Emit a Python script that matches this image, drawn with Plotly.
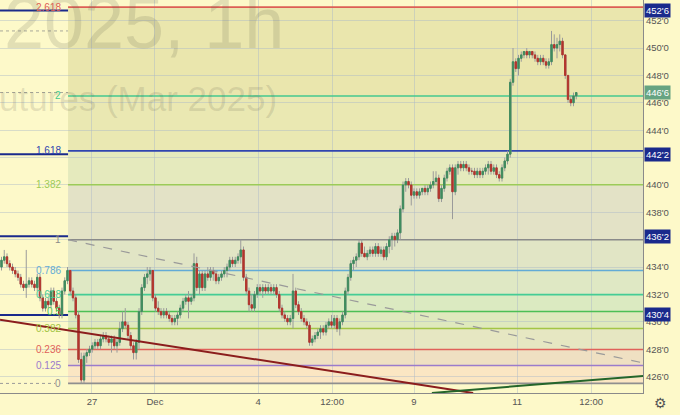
import plotly.graph_objects as go

# ---------------- data (hourly OHLC, Corn Futures Mar 2025) ----------------
open_ = [434.0, 434.5, 434.75, 434.25, 434.0, 433.75, 433.5, 433.25, 432.75, 432.5,
         432.75, 433.0, 432.75, 432.5, 433.25, 431.75, 431.0, 431.5, 431.25, 432.25,
         431.5, 431.0, 430.5, 432.25, 433.0, 433.75, 432.25, 431.75, 430.5, 427.25,
         425.75, 427.5, 427.75, 428.0, 428.25, 428.5, 428.25, 428.75, 429.0, 428.75,
         428.5, 428.75, 428.25, 428.5, 429.5, 430.0, 429.75, 429.0, 428.25, 427.75,
         428.5, 430.75, 432.5, 433.25, 433.5, 433.75, 431.75, 431.0, 430.75, 430.5,
         430.75, 430.5, 430.25, 430.0, 430.25, 430.5, 431.0, 431.5, 431.75, 431.5,
         431.75, 434.25, 432.5, 433.5, 432.5, 433.5, 433.25, 433.75, 433.5, 433.0,
         433.25, 433.5, 433.75, 434.0, 434.5, 434.25, 434.5, 434.75, 435.25, 433.25,
         432.25, 431.25, 431.0, 432.0, 432.5, 432.25, 432.5, 432.25, 432.5, 432.25,
         432.5, 432.0, 431.0, 430.5, 430.25, 430.0, 430.25, 432.25, 431.25, 430.75,
         430.25, 430.0, 429.75, 428.5, 428.75, 429.0, 429.25, 429.5, 429.25, 429.75,
         430.0, 429.75, 430.25, 429.5, 430.0, 430.5, 432.25, 433.25, 434.25, 434.5,
         434.75, 435.75, 435.0, 434.75, 435.0, 435.25, 435.0, 435.5, 435.0, 435.25,
         434.75, 435.5, 436.0, 436.25, 436.0, 436.5, 438.25, 440.0, 440.25, 440.0,
         439.25, 439.5, 439.25, 439.5, 439.75, 439.5, 439.75, 440.0, 440.25, 440.5,
         439.0, 439.75, 440.5, 441.0, 441.25, 439.5, 441.25, 441.5, 441.25, 441.5,
         441.25, 441.0, 441.0, 440.75, 441.0, 440.75, 441.0, 441.25, 441.5, 441.0,
         441.25, 440.75, 440.5, 441.25, 441.75, 442.25, 447.5, 449.0, 448.5, 449.25,
         449.5, 449.75, 449.5, 449.75, 449.5, 449.25, 449.0, 449.25, 449.0, 448.75,
         449.0, 450.25, 450.0, 450.25, 450.5, 449.5, 448.0, 446.25, 446.0, 446.5]
high = [434.75, 435.25, 435.0, 434.5, 434.25, 434.0, 433.75, 433.5, 433.0, 435.25,
        433.25, 433.25, 433.0, 433.5, 433.5, 432.0, 431.75, 431.75, 432.5, 432.5,
        431.75, 431.25, 432.5, 433.25, 434.0, 433.75, 432.5, 432.0, 430.75, 427.75,
        427.75, 428.0, 428.25, 428.5, 428.75, 428.75, 429.0, 429.25, 429.25, 429.0,
        429.0, 429.0, 428.75, 430.0, 430.75, 431.0, 430.0, 429.25, 428.5, 428.75,
        431.0, 432.75, 433.5, 434.0, 434.0, 433.75, 432.0, 431.5, 431.0, 431.0,
        431.0, 430.75, 430.5, 430.5, 430.75, 431.25, 431.75, 432.0, 432.25, 432.0,
        435.0, 434.75, 433.75, 433.75, 433.75, 434.0, 434.0, 434.0, 433.75, 433.5,
        433.75, 434.0, 434.25, 434.75, 434.75, 434.75, 435.0, 436.0, 435.5, 433.5,
        432.5, 432.0, 432.25, 432.75, 432.75, 432.75, 432.75, 432.75, 432.75, 432.75,
        432.75, 432.25, 431.25, 430.75, 430.5, 430.5, 433.5, 432.5, 431.5, 431.0,
        430.5, 430.25, 430.0, 429.0, 429.25, 429.5, 429.75, 429.75, 430.0, 430.25,
        430.5, 430.5, 430.5, 430.25, 430.75, 432.5, 433.5, 434.5, 434.75, 435.0,
        436.0, 436.0, 435.5, 435.25, 435.5, 435.5, 435.75, 435.75, 435.5, 435.5,
        435.75, 436.25, 436.5, 436.5, 436.75, 438.5, 440.25, 440.5, 440.5, 440.25,
        439.75, 439.75, 439.75, 439.75, 440.0, 440.0, 440.25, 441.0, 441.0, 440.75,
        440.0, 440.75, 441.25, 441.5, 441.5, 441.5, 441.75, 441.75, 441.75, 441.75,
        441.5, 441.25, 441.25, 441.25, 441.25, 441.25, 441.5, 441.75, 441.75, 441.5,
        441.5, 441.0, 441.5, 442.0, 442.5, 447.75, 450.0, 449.25, 449.5, 449.75,
        449.75, 450.0, 449.75, 449.75, 449.75, 449.5, 449.5, 449.5, 449.25, 449.25,
        451.25, 451.0, 450.75, 451.0, 450.75, 449.5, 448.0, 446.5, 446.75, 446.75]
low = [433.75, 434.25, 434.0, 433.75, 433.5, 433.25, 433.0, 432.5, 432.25, 431.75,
       432.5, 432.5, 432.25, 432.25, 431.5, 430.75, 430.75, 431.0, 431.0, 431.25,
       430.75, 430.25, 430.25, 432.0, 432.75, 432.0, 431.5, 430.25, 427.0, 425.5,
       425.5, 427.0, 427.5, 427.75, 428.0, 428.0, 428.0, 428.5, 428.5, 428.25,
       427.75, 428.0, 427.75, 428.25, 429.25, 429.5, 428.75, 428.0, 427.25, 427.25,
       428.0, 430.5, 432.25, 432.75, 433.0, 431.5, 430.75, 430.5, 430.25, 430.25,
       430.25, 430.0, 429.75, 429.75, 429.75, 430.25, 430.75, 431.25, 430.25, 431.25,
       431.5, 432.25, 432.0, 432.25, 432.25, 433.0, 433.0, 433.0, 432.75, 432.75,
       433.0, 433.25, 433.25, 433.75, 434.0, 434.0, 434.25, 434.25, 433.0, 432.0,
       430.75, 430.75, 430.75, 431.75, 432.0, 431.75, 432.0, 432.0, 432.0, 432.0,
       431.75, 430.75, 430.25, 430.0, 429.75, 429.75, 429.5, 431.0, 430.5, 430.0,
       429.75, 429.5, 428.25, 428.25, 428.5, 428.75, 428.75, 429.0, 429.0, 429.5,
       429.5, 429.5, 429.25, 429.0, 429.75, 430.25, 432.0, 433.0, 433.75, 434.0,
       434.5, 434.75, 434.75, 434.5, 434.75, 434.75, 434.75, 434.75, 434.75, 434.5,
       434.5, 435.0, 435.25, 435.5, 435.75, 436.0, 438.0, 439.5, 439.75, 438.5,
       439.0, 439.0, 439.0, 439.25, 439.25, 439.25, 439.5, 439.75, 440.0, 438.75,
       438.75, 439.5, 440.25, 440.75, 437.5, 439.25, 440.75, 441.0, 441.0, 441.0,
       440.75, 440.75, 440.5, 440.5, 440.5, 440.5, 440.75, 440.75, 440.75, 440.75,
       440.5, 440.25, 440.25, 441.0, 441.5, 442.0, 447.25, 448.25, 448.0, 449.0,
       449.25, 449.25, 449.25, 449.25, 449.0, 448.75, 448.75, 448.75, 448.5, 448.5,
       448.75, 449.75, 449.25, 449.75, 449.25, 447.75, 446.0, 445.75, 445.75, 446.25]
close = [434.5, 434.75, 434.25, 434.0, 433.75, 433.5, 433.25, 432.75, 432.5, 432.75,
         433.0, 432.75, 432.5, 433.25, 431.75, 431.0, 431.5, 431.25, 432.25, 431.5,
         431.0, 430.5, 432.25, 433.0, 433.75, 432.25, 431.75, 430.5, 427.25, 425.75,
         427.5, 427.75, 428.0, 428.25, 428.5, 428.25, 428.75, 429.0, 428.75, 428.5,
         428.75, 428.25, 428.5, 429.5, 430.0, 429.75, 429.0, 428.25, 427.75, 428.5,
         430.75, 432.5, 433.25, 433.5, 433.75, 431.75, 431.0, 430.75, 430.5, 430.75,
         430.5, 430.25, 430.0, 430.25, 430.5, 431.0, 431.5, 431.75, 431.5, 431.75,
         434.25, 432.5, 433.5, 432.5, 433.5, 433.25, 433.75, 433.5, 433.0, 433.25,
         433.5, 433.75, 434.0, 434.5, 434.25, 434.5, 434.75, 435.25, 433.25, 432.25,
         431.25, 431.0, 432.0, 432.5, 432.25, 432.5, 432.25, 432.5, 432.25, 432.5,
         432.0, 431.0, 430.5, 430.25, 430.0, 430.25, 432.25, 431.25, 430.75, 430.25,
         430.0, 429.75, 428.5, 428.75, 429.0, 429.25, 429.5, 429.25, 429.75, 430.0,
         429.75, 430.25, 429.5, 430.0, 430.5, 432.25, 433.25, 434.25, 434.5, 434.75,
         435.75, 435.0, 434.75, 435.0, 435.25, 435.0, 435.5, 435.0, 435.25, 434.75,
         435.5, 436.0, 436.25, 436.0, 436.5, 438.25, 440.0, 440.25, 440.0, 439.25,
         439.5, 439.25, 439.5, 439.75, 439.5, 439.75, 440.0, 440.25, 440.5, 439.0,
         439.75, 440.5, 441.0, 441.25, 439.5, 441.25, 441.5, 441.25, 441.5, 441.25,
         441.0, 441.0, 440.75, 441.0, 440.75, 441.0, 441.25, 441.5, 441.0, 441.25,
         440.75, 440.5, 441.25, 441.75, 442.25, 447.5, 449.0, 448.5, 449.25, 449.5,
         449.75, 449.5, 449.75, 449.5, 449.25, 449.0, 449.25, 449.0, 448.75, 449.0,
         450.25, 450.0, 450.25, 450.5, 449.5, 448.0, 446.25, 446.0, 446.5, 446.75]

# x-axis date labels (bar-index positions)
date_tick_pos = [32.9, 55.8, 93.3, 120.2, 150.0, 187.5, 214.4]
date_tick_text = ["27", "Dec", "4", "12:00", "9", "11", "12:00"]

# price axis ticks
price_ticks = [426, 428, 430, 432, 434, 436, 438, 440, 442, 444, 446, 448, 450, 452]

# Fibonacci extension drawing
fib_low, fib_high = 425.5, 436.0
fib_start_bar = 24.2
fib_ratios = [0, 0.125, 0.236, 0.382, 0.5, 0.618, 0.786, 1, 1.382, 1.618, 2, 2.618]
fib_labels = ["0", "0.125", "0.236", "0.382", "0.5", "0.618", "0.786", "1", "1.382", "1.618", "2", "2.618"]
fib_colors = ["#8f8f8f", "#9b7bcc", "#e0615a", "#a3c545", "#4cbf55", "#45cc95",
              "#62abd6", "#8a8a8a", "#9ccb58", "#2f45b0", "#45c98f", "#dd5f55"]
band_colors = ["#fbe6c3", "#efe0c2", "#e6e7c2", "#dfe9bd", "#dbeac1", "#dfe8c4",
               "#e1e5c5", "#e3e2c6", "#e5eabd", "#eae8b2", "#eae6ad"]

# horizontal level lines
level_prices = [452.75, 442.25, 436.25, 430.5]
last_price = 446.75
high_marker = 451.25

# trendlines (bar index, price)
red_trend = ([-0.55, 171.5], [430.15, 424.8])
green_trend = ([156.5, 233.3], [424.8, 426.05])
dash_trend = ([24.2, 233.3], [436.0, 427.0])

X_RANGE = [-0.545, 233.27]
Y_RANGE = [424.80, 453.51]

def fmt(p):
    w = int(p)
    e = int(round((p - w) * 8))
    return f"{w}'{e}"

FONT = "Liberation Sans, Arial, sans-serif"
GREEN, RED = "#3f8c5e", "#b3352c"
NAVY = "#1a2a8c"

idx = list(range(len(close)))
body_hi = [max(o, c) for o, c in zip(open_, close)]
body_lo = [min(o, c) for o, c in zip(open_, close)]

fig = go.Figure()
# wicks (gray)
fig.add_trace(go.Candlestick(
    x=idx, open=open_, high=high, low=low, close=close,
    increasing=dict(line=dict(color="#9a9a9a", width=1), fillcolor="rgba(0,0,0,0)"),
    decreasing=dict(line=dict(color="#9a9a9a", width=1), fillcolor="rgba(0,0,0,0)"),
    hoverinfo="skip", showlegend=False))
# bodies
fig.add_trace(go.Candlestick(
    x=idx, open=open_, high=body_hi, low=body_lo, close=close,
    increasing=dict(line=dict(color=GREEN, width=1), fillcolor=GREEN),
    decreasing=dict(line=dict(color=RED, width=1), fillcolor=RED),
    hoverinfo="skip", showlegend=False))

shapes = []
fib_prices = [fib_low + r * (fib_high - fib_low) for r in fib_ratios]
for i in range(len(fib_prices) - 1):
    shapes.append(dict(type="rect", xref="x", yref="y", x0=fib_start_bar, x1=X_RANGE[1],
                       y0=fib_prices[i], y1=fib_prices[i + 1], fillcolor=band_colors[i],
                       line=dict(width=0), layer="below"))
for p, c in zip(fib_prices, fib_colors):
    shapes.append(dict(type="line", xref="x", yref="y", x0=fib_start_bar, x1=X_RANGE[1],
                       y0=p, y1=p, line=dict(color=c, width=1.6), layer="between"))
# dotted left extension of 0 level
shapes.append(dict(type="line", xref="x", yref="y", x0=X_RANGE[0], x1=19.5, y0=fib_low, y1=fib_low,
                   line=dict(color="#9a9a9a", width=1, dash="dot"), layer="between"))
# dotted price lines
for p in [high_marker, last_price]:
    shapes.append(dict(type="line", xref="paper", yref="y", x0=0, x1=1, y0=p, y1=p,
                       line=dict(color="#a8a89a", width=1, dash="dot"), layer="between"))
for p in level_prices:
    shapes.append(dict(type="line", xref="paper", yref="y", x0=0, x1=1, y0=p, y1=p,
                       line=dict(color=NAVY, width=2), layer="between"))
for (xs, ys), col, dash, w in [(dash_trend, "#9a9a9a", "dash", 1.2),
                               (red_trend, "#8b1d1d", "solid", 2),
                               (green_trend, "#24652a", "solid", 2)]:
    shapes.append(dict(type="line", xref="x", yref="y", x0=xs[0], x1=xs[1], y0=ys[0], y1=ys[1],
                       line=dict(color=col, width=w, dash=dash), layer="above"))

ann = []
# watermark
ann.append(dict(xref="paper", yref="paper", x=286 / 643, y=1 - 23 / 393, xanchor="right", yanchor="middle",
                text="ZCH2025, 1h", showarrow=False,
                font=dict(family=FONT, size=72, color="rgba(95,95,80,0.17)")))
ann.append(dict(xref="paper", yref="paper", x=279 / 643, y=1 - 98 / 393, xanchor="right", yanchor="middle",
                text="Corn Futures (Mar 2025)", showarrow=False,
                font=dict(family=FONT, size=35, color="rgba(95,95,80,0.17)")))
# fib labels
for p, t, c in zip(fib_prices, fib_labels, fib_colors):
    ann.append(dict(xref="x", yref="y", x=22.3, y=p, xanchor="right", yanchor="middle",
                    text=t, showarrow=False, font=dict(family=FONT, size=10, color=c)))
# price boxes
for p in level_prices:
    ann.append(dict(xref="paper", yref="y", x=1, y=p, xanchor="left", yanchor="middle", xshift=1,
                    text=fmt(p), showarrow=False, bgcolor=NAVY, borderpad=1,
                    font=dict(family=FONT, size=9.5, color="white")))
ann.append(dict(xref="paper", yref="y", x=1, y=last_price, xanchor="left", yanchor="middle", xshift=1,
                text=fmt(last_price), showarrow=False, bgcolor="#66a482", borderpad=1,
                font=dict(family=FONT, size=9.5, color="white")))
ann.append(dict(xref="paper", yref="paper", x=660 / 643, y=-10 / 393, xanchor="center", yanchor="middle",
                text="⚙", showarrow=False, font=dict(family="DejaVu Sans", size=14, color="#555")))

fig.update_layout(
    width=680, height=415,
    margin=dict(l=0, r=37, t=0, b=22, pad=0),
    paper_bgcolor="#fdf9c9", plot_bgcolor="#fdf9c9",
    showlegend=False, shapes=shapes, annotations=ann,
    xaxis=dict(range=X_RANGE, tickmode="array", tickvals=date_tick_pos, ticktext=date_tick_text,
               showgrid=True, gridcolor="rgba(170,185,200,0.45)", gridwidth=1, zeroline=False,
               showline=True, linecolor="#8a8a8a", linewidth=1, ticks="",
               tickfont=dict(family=FONT, size=9.5, color="#555"), rangeslider=dict(visible=False),
               fixedrange=True),
    yaxis=dict(range=Y_RANGE, side="right", tickmode="array", tickvals=price_ticks,
               ticktext=[fmt(p) for p in price_ticks], showgrid=True,
               gridcolor="rgba(170,185,200,0.45)", gridwidth=1, zeroline=False,
               showline=True, linecolor="#8a8a8a", linewidth=1, ticks="",
               tickfont=dict(family=FONT, size=9.5, color="#555"), fixedrange=True),
)

fig.write_html("out.html", config={"displayModeBar": False},
               post_script="document.body.style.margin='0';document.body.style.overflow='hidden';")
